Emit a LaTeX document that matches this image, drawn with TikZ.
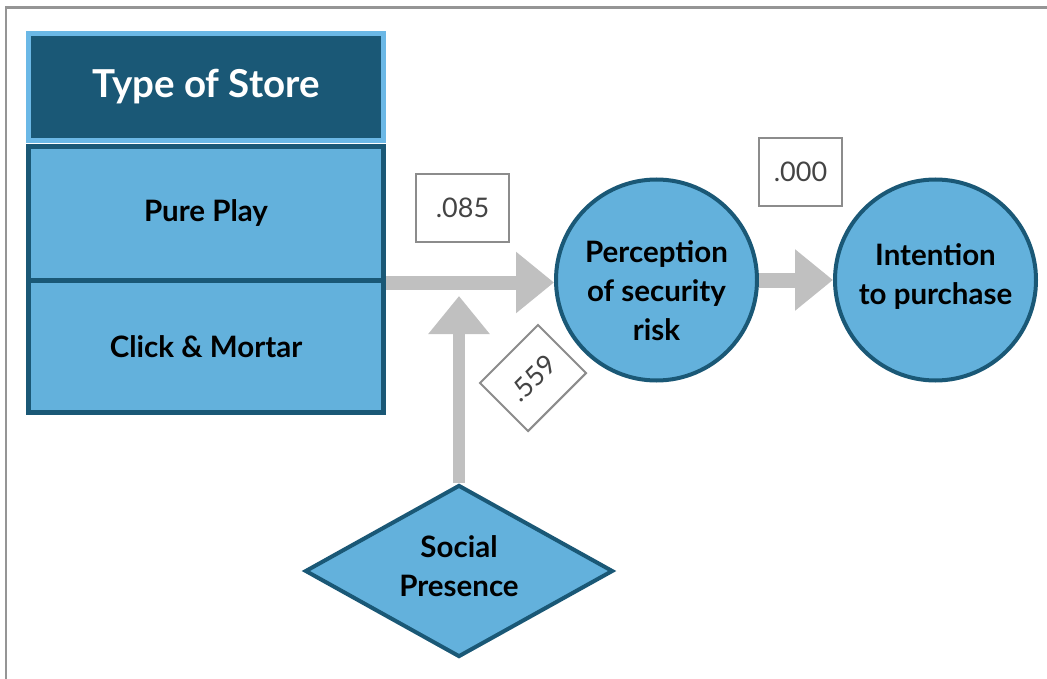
\documentclass[tikz,border=0pt]{standalone}
\usepackage{fontspec}
\setmainfont{Lato}
\usetikzlibrary{arrows.meta,shapes.geometric}
\definecolor{lblue}{HTML}{63B1DC}
\definecolor{dblue}{HTML}{1A5876}
\definecolor{hborder}{HTML}{6BB8E6}
\definecolor{agray}{HTML}{C0C0C0}
\definecolor{lgray}{HTML}{8C8C8C}
\definecolor{ltext}{HTML}{444444}
\definecolor{fgray}{HTML}{959595}
\tikzset{
  frameline/.style={draw=fgray, line width=2.5pt},
  header/.style={draw=hborder, fill=dblue, line width=5pt, inner sep=0pt,
    minimum width=355pt, minimum height=107pt, text=white,
    font=\bfseries\fontsize{38.5}{44}\selectfont},
  storebox/.style={draw=dblue, fill=lblue, line width=5pt, inner sep=0pt,
    minimum width=355pt, text=black, font=\bfseries\fontsize{29.5}{39}\selectfont},
  construct/.style={circle, draw=dblue, fill=lblue, line width=4pt, inner sep=0pt,
    minimum size=201pt},
  ctext/.style={align=center, text=black, inner sep=0pt,
    font=\bfseries\fontsize{29.5}{39}\selectfont},
  moderator/.style={diamond, aspect=1.8, draw=dblue, fill=lblue, line width=4pt,
    inner sep=0pt, minimum width=308pt, minimum height=172pt},
  lbl/.style={draw=lgray, fill=white, line width=2pt, inner sep=0pt,
    minimum height=68pt, text=ltext, font=\fontsize{27}{30}\selectfont},
  garrow/.style={draw=agray, line width=14pt, -{Triangle[length=38pt,width=59pt]}},
}
\begin{document}
\begin{tikzpicture}[x=1pt,y=-1pt]
\useasboundingbox (0,0) rectangle (1047,679);
\draw[frameline] (6,679) -- (6,7.5) -- (1047,7.5);

\node[header] (hd) at (206,87) {Type of Store};
\node[storebox, minimum height=133.5pt] (pp) at (206,213.25) {Pure Play};
\node[storebox, minimum height=132.5pt] (cm) at (206,346.25) {Click \& Mortar};

\node[construct] (c1) at (656.5,280) {};
\node[ctext] (c1t) at ([yshift=-11pt]c1.center) {Perception\\of security\\risk};
\node[construct] (c2) at (935.5,280) {};
\node[ctext] (c2t) at ([yshift=3pt]c2.center) {Intention\\to purchase};
\node[moderator] (sp) at (459,571) {};
\node[ctext] (spt) at ([yshift=5pt]sp.center) {Social\\Presence};

\coordinate (vt) at (459,296);

\draw[garrow] (pp.south east) -- (pp.south east -| c1.west);
\draw[garrow, line width=15pt] (c1.east) -- (c2.west);
\draw[garrow, line width=12pt] (sp.north) -- (vt);

\node[lbl, minimum width=93pt] (l1) at (462.5,208) {.085};
\node[lbl, minimum width=83pt] (l2) at (800.5,172) {.000};
\node[lbl, minimum width=82pt, rotate=45] (l3) at (533,378) {.559};
\end{tikzpicture}
\end{document}
